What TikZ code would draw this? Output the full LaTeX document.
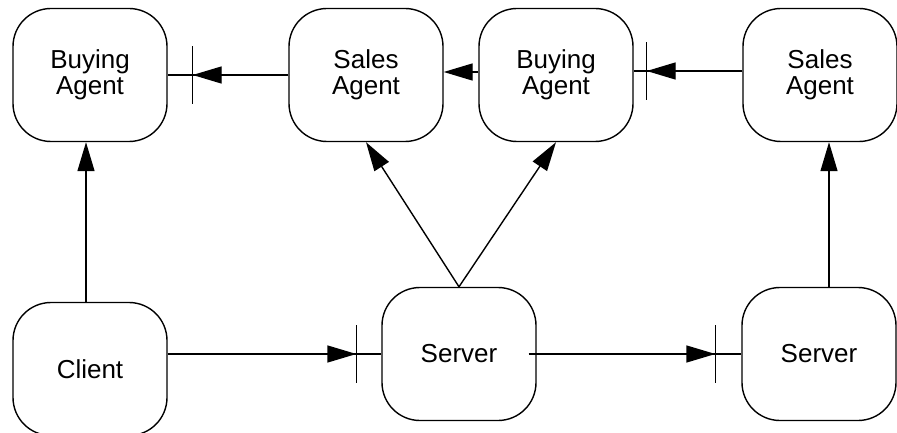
\documentclass[tikz,border=0pt]{standalone}
\usepackage{fontspec}
\setmainfont{Liberation Sans}
\usetikzlibrary{arrows.meta,decorations.markings}
\tikzset{
	agent/.style={draw, line width=1.4pt, rounded corners=38pt, minimum width=154pt, minimum height=133pt, align=center, font=\fontsize{26}{26}\selectfont},
	tip/.style={line width=1.4pt, -{Triangle[length=29pt,width=17pt]}},
	barred/.style={line width=1.4pt, postaction={decorate}, decoration={markings, mark=at position -#1 with {\arrow{Triangle[length=29pt,width=17pt]}\draw[line width=1.4pt] (0,-29)--(0,29);}}}
}
\begin{document}
\begin{tikzpicture}[x=1pt, y=-1pt]
			\useasboundingbox (0,0) rectangle (897,433);
			\node[agent] (ba1) at (90,75) {Buying\\Agent};
			\node[agent] (sa1) at (366,75) {Sales\\Agent};
			\node[agent] (ba2) at (556,75) {Buying\\Agent};
			\node[agent] (sa2) at (820,75) {Sales\\Agent};
			\node[agent] (client) at (90,369) {Client};
			\node[agent] (srv1) at (459,354) {Server};
			\node[agent] (srv2) at (819,354) {Server};
			% top row
			\draw[barred=25pt] (sa1.west) -- (ba1.east);
			\draw[tip] ([yshift=3pt]ba2.west) -- ([yshift=3pt]sa1.east);
			\draw[barred=13pt] ([yshift=4pt]sa2.west) -- ([yshift=4pt]ba2.east);
			% upwards
			\draw[tip] ([xshift=-4pt]client.north) -- ([xshift=-4pt]ba1.south);
			\draw[tip] (srv1.north) -- (sa1.south);
			\draw[tip] (srv1.north) -- (ba2.south);
			\draw[tip] ([xshift=10pt]srv2.north) -- ([xshift=9pt]sa2.south);
			% bottom row
			\draw[barred=25pt] (client.east |- srv1.west) -- (srv1.west);
			\draw[barred=26pt] ([xshift=-8pt]srv1.east) -- (srv2.west);
\end{tikzpicture}
\end{document}
